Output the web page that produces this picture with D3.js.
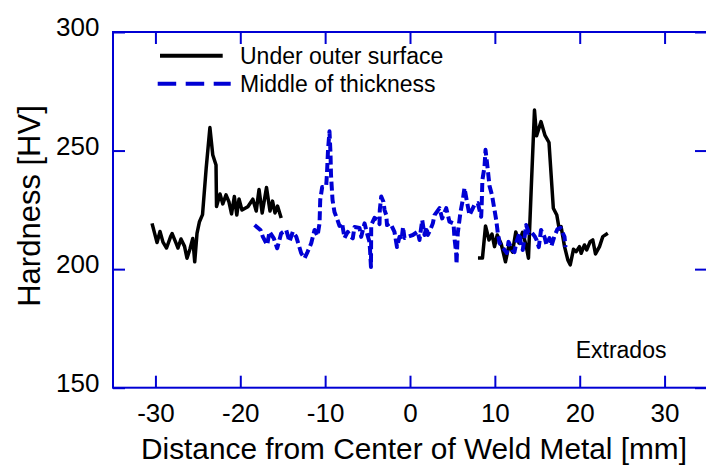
<!DOCTYPE html>
<html>
<head>
<meta charset="utf-8">
<script src="https://cdn.jsdelivr.net/npm/d3@7"></script>
<style>
  html, body { margin: 0; padding: 0; background: #fff; }
  svg { display: block; font-family: "Liberation Sans", Arial, sans-serif; }
</style>
</head>
<body>
<svg id="chart" width="706" height="465"></svg>
<script>
// Axis ticks
const xTicks = [-30, -20, -10, 0, 10, 20, 30];
const yTicks = [150, 200, 250, 300];
const seriesNames = ["Under outer surface", "Middle of thickness"];
const noteText = "Extrados";

// Under outer surface: two measured stretches, separated by a gap (null)
const outerDist = [
  -30.40, -29.81, -29.46, -29.11, -28.69, -28.22, -28.03, -27.57, -27.34, -26.99,
  -26.57, -26.28, -25.93, -25.60, -25.37, -25.10, -24.81, -24.45, -24.02, -23.58,
  -23.24, -22.86, -22.80, -22.39, -22.06, -21.68, -21.33, -21.03, -20.70, -20.41,
  -20.15, -19.80, -19.11, -18.52, -18.12, -17.79, -17.42, -16.91, -16.50, -16.20,
  -15.91, -15.61, -15.18,
  0,
  8.01, 8.54, 8.90, 9.31, 9.66, 9.96, 10.28, 10.75, 11.25, 11.67,
  12.08, 12.47, 12.84, 13.26, 13.67, 13.96, 14.28, 14.67, 14.91, 15.44,
  15.91, 16.38, 16.89, 17.30, 17.58, 17.81, 18.21, 18.60, 18.88, 19.27,
  19.59, 19.97, 20.17, 20.56, 20.83, 21.23, 21.54, 21.86, 22.33, 22.72,
  23.31
];
const outerHV = [
  219.3, 211.2, 215.9, 211.4, 208.9, 213.6, 215.0, 211.0, 208.9, 212.7,
  209.6, 204.6, 208.5, 212.9, 203.1, 215.1, 220.0, 223.0, 242.5, 259.7,
  248.1, 243.9, 226.4, 231.7, 227.5, 231.3, 228.3, 223.3, 230.6, 222.8,
  229.6, 224.9, 226.3, 229.5, 224.5, 233.6, 223.7, 234.4, 224.5, 228.7,
  223.7, 226.6, 221.6,
  null,
  204.7, 204.7, 218.2, 212.3, 214.8, 209.5, 214.4, 210.6, 203.1, 210.2,
  207.2, 215.7, 211.0, 215.5, 210.2, 204.6, 233.4, 267.1, 256.2, 262.2,
  256.4, 253.4, 225.7, 222.8, 216.9, 217.9, 209.5, 203.9, 201.8, 208.4,
  207.4, 209.5, 206.7, 210.2, 208.1, 211.6, 212.3, 206.4, 209.5, 213.7,
  215.1
];

// Middle of thickness
const middleDist = [
  -18.32, -17.62, -17.35, -16.83, -16.56, -16.05, -15.65, -15.18, -14.59, -14.20,
  -13.81, -13.41, -12.82, -12.43, -12.08, -11.64, -11.25, -10.90, -10.66, -10.58,
  -10.35, -9.88, -9.78, -9.66, -9.49, -9.37, -9.31, -9.13, -8.90, -8.54,
  -8.31, -8.01, -7.72, -7.33, -7.01, -6.74, -6.54, -5.95, -5.75, -5.36,
  -5.01, -4.77, -4.71, -4.60, -4.57, -4.18, -3.77, -3.59, -3.56, -3.39,
  -3.12, -3.00, -2.80, -2.71, -2.42, -2.22, -1.83, -1.71, -1.53, -1.24,
  -1.00, -0.82, -0.65, -0.26, 0.33, 0.92, 1.12, 1.44, 1.71, 1.94,
  2.10, 2.38, 2.69, 2.89, 3.48, 3.79, 4.27, 4.65, 5.13, 5.24,
  5.44, 5.48, 5.63, 5.95, 6.22, 6.42, 6.74, 7.01, 7.60, 7.99,
  8.39, 8.45, 8.53, 8.78, 8.90, 9.17, 9.37, 9.66, 9.90, 10.16,
  10.35, 10.55, 10.90, 11.14, 11.41, 11.61, 12.04, 12.31, 12.55, 12.90,
  13.10, 13.29, 13.49, 13.69, 14.00, 14.28, 14.67, 14.91, 15.18, 15.44,
  15.85, 16.09, 16.44, 16.67, 17.03, 17.38, 17.74, 18.01, 18.21, 18.32
];
const middleHV = [
  218.6, 216.5, 213.7, 210.2, 215.8, 213.0, 208.8, 215.1, 216.5, 211.6,
  215.8, 213.7, 206.7, 204.6, 207.2, 210.9, 216.5, 214.0, 219.3, 229.2,
  234.6, 234.8, 240.6, 250.3, 258.1, 249.0, 239.7, 229.2, 224.1, 220.7,
  218.2, 219.5, 213.1, 215.7, 213.6, 213.0, 217.8, 217.4, 213.6, 219.3,
  214.4, 211.5, 208.1, 200.9, 218.6, 221.6, 220.7, 219.0, 224.9, 230.6,
  228.3, 224.9, 222.8, 218.6, 219.3, 218.6, 215.7, 213.1, 209.3, 213.6,
  212.3, 217.8, 213.1, 213.7, 214.4, 215.8, 212.3, 220.7, 214.4, 217.8,
  214.4, 216.5, 219.3, 222.8, 225.7, 221.4, 225.7, 220.0, 219.3, 213.1,
  206.8, 202.2, 215.2, 224.1, 229.2, 234.2, 227.9, 222.8, 227.1, 227.8,
  222.1, 227.1, 237.6, 243.1, 250.3, 241.8, 235.1, 231.3, 226.2, 220.7,
  215.2, 211.0, 209.3, 208.1, 206.8, 211.5, 208.1, 207.2, 211.5, 215.2,
  209.8, 208.1, 213.1, 218.6, 215.2, 215.7, 214.0, 212.3, 209.3, 216.5,
  213.6, 210.2, 213.1, 209.8, 214.0, 216.9, 217.4, 215.2, 213.6, 209.3
];

const BLUE = "#0000d4";
const BLACK = "#000000";

const svg = d3.select("#chart");

const plotL = 113, plotR = 707, plotT = 32, plotB = 387.7;
const x = d3.scaleLinear().domain([-35, 35]).range([plotL, plotR]);
const y = d3.scaleLinear().domain([150, 300]).range([plotB, plotT]);

// Plain hyphen-minus for negative tick labels
const plainNum = d => String(d);

// Frame
svg.append("rect")
  .attr("x", plotL).attr("y", plotT)
  .attr("width", plotR - plotL).attr("height", plotB - plotT)
  .attr("fill", "none").attr("stroke", BLUE).attr("stroke-width", 2);

function styleAxis(g, withLabels) {
  g.select(".domain").remove();
  g.selectAll(".tick line").attr("stroke", BLUE).attr("stroke-width", 2);
  if (!withLabels) g.selectAll(".tick text").remove();
  else g.selectAll(".tick text").attr("fill", "#000").attr("font-size", 26)
        .attr("font-family", "'Liberation Sans', Arial, sans-serif");
}

// Bottom axis with labels, ticks pointing inward
svg.append("g")
  .attr("transform", `translate(0,${plotB})`)
  .call(d3.axisBottom(x).tickValues(xTicks).tickFormat(plainNum)
    .tickSizeInner(-12).tickSizeOuter(0).tickPadding(15.5))
  .call(g => styleAxis(g, true));

// Top axis, ticks only
svg.append("g")
  .attr("transform", `translate(0,${plotT})`)
  .call(d3.axisTop(x).tickValues(xTicks).tickSizeInner(-12).tickSizeOuter(0))
  .call(g => styleAxis(g, false));

// Left axis with labels
svg.append("g")
  .attr("transform", `translate(${plotL},0)`)
  .call(d3.axisLeft(y).tickValues(yTicks).tickFormat(plainNum)
    .tickSizeInner(-12).tickSizeOuter(0).tickPadding(13.5))
  .call(g => styleAxis(g, true))
  .call(g => g.selectAll(".tick text").attr("dy", "0.14em"));

// Right axis, ticks only
svg.append("g")
  .attr("transform", `translate(${plotR},0)`)
  .call(d3.axisRight(y).tickValues(yTicks).tickSizeInner(-12).tickSizeOuter(0))
  .call(g => styleAxis(g, false));

// Axis titles
svg.append("text")
  .attr("x", 414).attr("y", 459)
  .attr("text-anchor", "middle")
  .attr("font-size", 29.8)
  .text("Distance from Center of Weld Metal [mm]");

svg.append("text")
  .attr("transform", "translate(40,206) rotate(-90)")
  .attr("text-anchor", "middle")
  .attr("font-size", 31)
  .text("Hardness [HV]");

// Series
const outer = outerDist.map((d, i) => ({ x: d, v: outerHV[i] }));
const middle = middleDist.map((d, i) => ({ x: d, v: middleHV[i] }));

const line = d3.line()
  .defined(d => d.v != null)
  .x(d => x(d.x))
  .y(d => y(d.v));

svg.append("path")
  .datum(outer)
  .attr("d", line)
  .attr("fill", "none")
  .attr("stroke", BLACK)
  .attr("stroke-width", 3.5)
  .attr("stroke-linejoin", "round");

svg.append("path")
  .datum(middle)
  .attr("d", line)
  .attr("fill", "none")
  .attr("stroke", BLUE)
  .attr("stroke-width", 4)
  .attr("stroke-dasharray", "9,4")
  .attr("stroke-linejoin", "round");

// Legend
const legend = svg.append("g");
legend.append("line")
  .attr("x1", 160).attr("x2", 222.7).attr("y1", 55.7).attr("y2", 55.7)
  .attr("stroke", BLACK).attr("stroke-width", 4);
legend.append("line")
  .attr("x1", 157.7).attr("x2", 230.7).attr("y1", 83.7).attr("y2", 83.7)
  .attr("stroke", BLUE).attr("stroke-width", 4)
  .attr("stroke-dasharray", "18.5,9.5");
legend.selectAll("text.lbl")
  .data(seriesNames)
  .join("text")
  .attr("class", "lbl")
  .attr("x", 240)
  .attr("y", (d, i) => 63.5 + i * 28)
  .attr("font-size", 23)
  .text(d => d);

// Annotation
svg.append("text")
  .attr("x", 575.7).attr("y", 358)
  .attr("font-size", 23)
  .text(noteText);
</script>
</body>
</html>
